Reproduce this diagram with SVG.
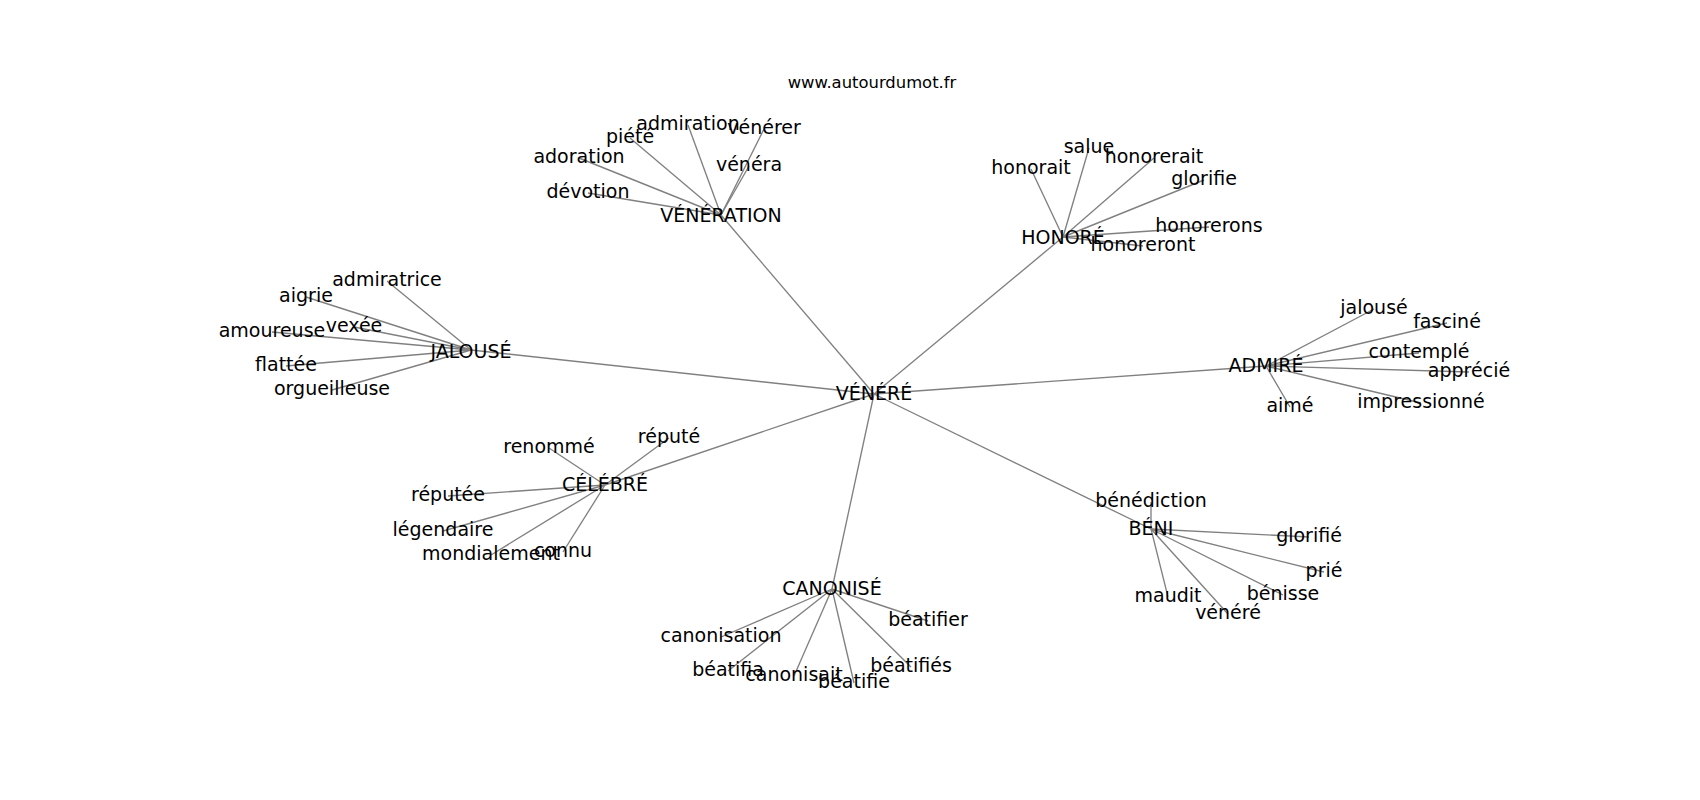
<svg xmlns="http://www.w3.org/2000/svg" width="1700" height="800" viewBox="0 0 1700 800">
<style>
text{font-family:"DejaVu Sans","Liberation Sans",sans-serif;font-size:19px;fill:#000;text-anchor:middle}
.t{font-size:16.4px}
#edges line{stroke:#808080;stroke-width:1.35}
</style>
<rect width="1700" height="800" fill="#fff"/>
<text class="t" x="872" y="88">www.autourdumot.fr</text>
<g id="edges">
<line x1="874" y1="394" x2="721" y2="215"/>
<line x1="874" y1="394" x2="1063" y2="237"/>
<line x1="874" y1="394" x2="471" y2="350"/>
<line x1="874" y1="394" x2="1266" y2="366"/>
<line x1="874" y1="394" x2="605" y2="485"/>
<line x1="874" y1="394" x2="832" y2="589"/>
<line x1="874" y1="394" x2="1151" y2="529"/>
<line x1="721" y1="215" x2="688" y2="125"/>
<line x1="721" y1="215" x2="630" y2="138"/>
<line x1="721" y1="215" x2="579" y2="158"/>
<line x1="721" y1="215" x2="588" y2="193"/>
<line x1="721" y1="215" x2="764" y2="129"/>
<line x1="721" y1="215" x2="749" y2="166"/>
<line x1="1063" y1="237" x2="1031" y2="169"/>
<line x1="1063" y1="237" x2="1089" y2="148"/>
<line x1="1063" y1="237" x2="1154" y2="158"/>
<line x1="1063" y1="237" x2="1204" y2="180"/>
<line x1="1063" y1="237" x2="1209" y2="227"/>
<line x1="1063" y1="237" x2="1143" y2="246"/>
<line x1="1266" y1="366" x2="1374" y2="309"/>
<line x1="1266" y1="366" x2="1447" y2="323"/>
<line x1="1266" y1="366" x2="1419" y2="353"/>
<line x1="1266" y1="366" x2="1469" y2="372"/>
<line x1="1266" y1="366" x2="1421" y2="403"/>
<line x1="1266" y1="366" x2="1290" y2="407"/>
<line x1="471" y1="350" x2="387" y2="281"/>
<line x1="471" y1="350" x2="306" y2="297"/>
<line x1="471" y1="350" x2="272" y2="332"/>
<line x1="471" y1="350" x2="354" y2="327"/>
<line x1="471" y1="350" x2="286" y2="366"/>
<line x1="471" y1="350" x2="332" y2="390"/>
<line x1="605" y1="485" x2="549" y2="448"/>
<line x1="605" y1="485" x2="669" y2="438"/>
<line x1="605" y1="485" x2="448" y2="496"/>
<line x1="605" y1="485" x2="443" y2="531"/>
<line x1="605" y1="485" x2="491" y2="555"/>
<line x1="605" y1="485" x2="563" y2="552"/>
<line x1="832" y1="589" x2="721" y2="637"/>
<line x1="832" y1="589" x2="928" y2="621"/>
<line x1="832" y1="589" x2="728" y2="671"/>
<line x1="832" y1="589" x2="794" y2="676"/>
<line x1="832" y1="589" x2="854" y2="683"/>
<line x1="832" y1="589" x2="911" y2="667"/>
<line x1="1151" y1="529" x2="1151" y2="502"/>
<line x1="1151" y1="529" x2="1309" y2="537"/>
<line x1="1151" y1="529" x2="1324" y2="572"/>
<line x1="1151" y1="529" x2="1283" y2="595"/>
<line x1="1151" y1="529" x2="1168" y2="597"/>
<line x1="1151" y1="529" x2="1228" y2="614"/>
</g>
<g id="n-venere"><text x="874" y="400">VÉNÉRÉ</text></g>
<g id="n-veneration"><text x="721" y="222">VÉNÉRATION</text></g>
<g id="n-admiration"><text x="688" y="130">admiration</text></g>
<g id="n-piete"><text x="630" y="143">piété</text></g>
<g id="n-adoration"><text x="579" y="163">adoration</text></g>
<g id="n-devotion"><text x="588" y="198">dévotion</text></g>
<g id="n-venerer"><text x="764" y="134">vénérer</text></g>
<g id="n-venera"><text x="749" y="171">vénéra</text></g>
<g id="n-honore"><text x="1063" y="244">HONORÉ</text></g>
<g id="n-honorait"><text x="1031" y="174">honorait</text></g>
<g id="n-salue"><text x="1089" y="153">salue</text></g>
<g id="n-honorerait"><text x="1154" y="163">honorerait</text></g>
<g id="n-glorifie"><text x="1204" y="185">glorifie</text></g>
<g id="n-honorerons"><text x="1209" y="232">honorerons</text></g>
<g id="n-honoreront"><text x="1143" y="251">honoreront</text></g>
<g id="n-admire"><text x="1266" y="372">ADMIRÉ</text></g>
<g id="n-jalouse2"><text x="1374" y="314">jalousé</text></g>
<g id="n-fascine"><text x="1447" y="328">fasciné</text></g>
<g id="n-contemple"><text x="1419" y="358">contemplé</text></g>
<g id="n-apprecie"><text x="1469" y="377">apprécié</text></g>
<g id="n-impressionne"><text x="1421" y="408">impressionné</text></g>
<g id="n-aime"><text x="1290" y="412">aimé</text></g>
<g id="n-jalouse"><text x="471" y="358">JALOUSÉ</text></g>
<g id="n-admiratrice"><text x="387" y="286">admiratrice</text></g>
<g id="n-aigrie"><text x="306" y="302">aigrie</text></g>
<g id="n-amoureuse"><text x="272" y="337">amoureuse</text></g>
<g id="n-vexee"><text x="354" y="332">vexée</text></g>
<g id="n-flattee"><text x="286" y="371">flattée</text></g>
<g id="n-orgueilleuse"><text x="332" y="395">orgueilleuse</text></g>
<g id="n-celebre"><text x="605" y="491">CÉLÉBRÉ</text></g>
<g id="n-renomme"><text x="549" y="453">renommé</text></g>
<g id="n-repute"><text x="669" y="443">réputé</text></g>
<g id="n-reputee"><text x="448" y="501">réputée</text></g>
<g id="n-legendaire"><text x="443" y="536">légendaire</text></g>
<g id="n-mondialement"><text x="491" y="560">mondialement</text></g>
<g id="n-connu"><text x="563" y="557">connu</text></g>
<g id="n-canonise"><text x="832" y="595">CANONISÉ</text></g>
<g id="n-canonisation"><text x="721" y="642">canonisation</text></g>
<g id="n-beatifier"><text x="928" y="626">béatifier</text></g>
<g id="n-beatifia"><text x="728" y="676">béatifia</text></g>
<g id="n-canonisait"><text x="794" y="681">canonisait</text></g>
<g id="n-beatifie"><text x="854" y="688">béatifie</text></g>
<g id="n-beatifies"><text x="911" y="672">béatifiés</text></g>
<g id="n-beni"><text x="1151" y="535">BÉNI</text></g>
<g id="n-benediction"><text x="1151" y="507">bénédiction</text></g>
<g id="n-glorifie2"><text x="1309" y="542">glorifié</text></g>
<g id="n-prie"><text x="1324" y="577">prié</text></g>
<g id="n-benisse"><text x="1283" y="600">bénisse</text></g>
<g id="n-maudit"><text x="1168" y="602">maudit</text></g>
<g id="n-venere2"><text x="1228" y="619">vénéré</text></g>
</svg>
